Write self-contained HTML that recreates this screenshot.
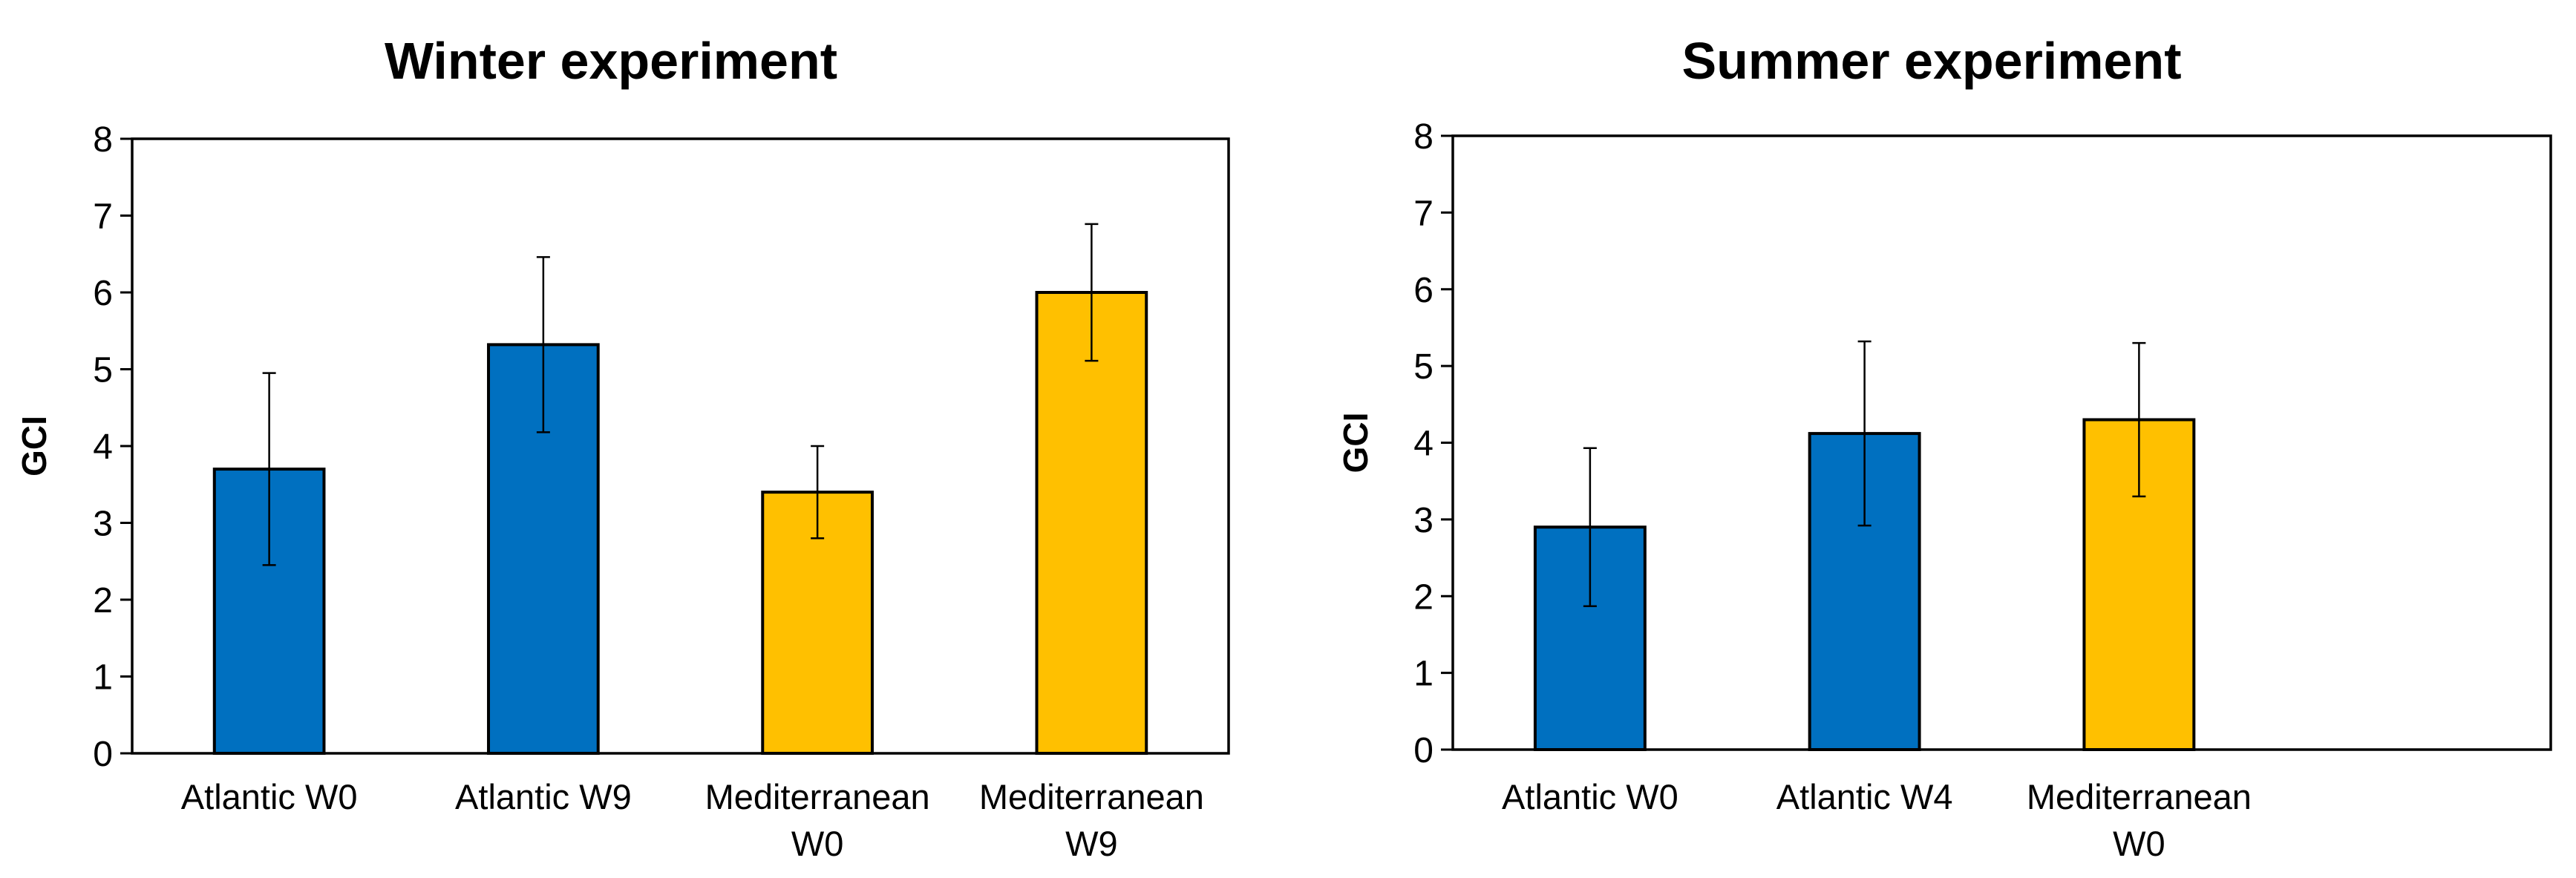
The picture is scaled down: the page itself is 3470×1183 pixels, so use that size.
<!DOCTYPE html>
<html><head><meta charset="utf-8"><style>
html,body{margin:0;padding:0;background:#fff;}
svg{display:block;font-family:"Liberation Sans",Arial,sans-serif;}
</style></head><body>
<svg id="chart" width="3470" height="1183" viewBox="0 0 3470 1183" xmlns="http://www.w3.org/2000/svg"></svg>
<script>
const winterCategories = [["Atlantic W0"],["Atlantic W9"],["Mediterranean","W0"],["Mediterranean","W9"]];
const winterValues = [3.7, 5.32, 3.4, 6.0];
const winterErrors = [1.25, 1.14, 0.6, 0.89];
const winterColors = ["#0070C0","#0070C0","#FFC000","#FFC000"];
const summerCategories = [["Atlantic W0"],["Atlantic W4"],["Mediterranean","W0"],[]];
const summerValues = [2.9, 4.12, 4.3];
const summerErrors = [1.03, 1.2, 1.0];
const summerColors = ["#0070C0","#0070C0","#FFC000"];
const yTicks = [0,1,2,3,4,5,6,7,8];

const svg = document.getElementById('chart');
const NS = 'http://www.w3.org/2000/svg';
function mk(tag, attrs, parent){
  const e = document.createElementNS(NS, tag);
  for (const k in attrs) e.setAttribute(k, attrs[k]);
  (parent||svg).appendChild(e);
  return e;
}
function drawPanel(key, title, cats, vals, errs, cols, L, R, T, B, titleX, gciX){
  const g = mk('g', {});
  
  
  const y = v => B - (v/8)*(B-T);
  const band = (R-L)/cats.length;
  const xc = i => L + band*(i+0.5);
  const bw = band*0.4;
  const t = mk('text', {x:titleX, y:106, 'text-anchor':'middle', 'font-size':70, 'font-weight':'bold'}, g);
  t.textContent = title;
  
  
  const yl = mk('text', {x:0, y:0, transform:`translate(${gciX},${(T+B)/2}) rotate(-90)`, 'text-anchor':'middle', 'font-size':46, 'font-weight':'bold'}, g);
  yl.textContent = 'GCI';
  
  
  yTicks.forEach(v => {
    const tk = mk('line', {x1:L-16, x2:L, y1:y(v), y2:y(v), stroke:'#000', 'stroke-width':3}, g);
    
    
    const tl = mk('text', {x:L-26, y:y(v)+17, 'text-anchor':'end', 'font-size':48}, g);
    tl.textContent = v;
    
    
  });
  vals.forEach((v,i) => {
    const r = mk('rect', {x:xc(i)-bw/2, y:y(v), width:bw, height:B-y(v), fill:cols[i], stroke:'#000', 'stroke-width':4}, g);
    
    
    const hi = y(v+errs[i]), lo = y(v-errs[i]);
    const eb = mk('path', {d:`M${xc(i)},${hi}V${lo}M${xc(i)-9},${hi}H${xc(i)+9}M${xc(i)-9},${lo}H${xc(i)+9}`, stroke:'#000', 'stroke-width':2.5, fill:'none'}, g);
    
    
  });
  const fr = mk('rect', {x:L, y:T, width:R-L, height:B-T, fill:'none', stroke:'#000', 'stroke-width':3.5}, g);
  
  
  cats.forEach((c,i) => {
    c.forEach((line,j) => {
      const ct = mk('text', {x:xc(i), y:1090+j*63, 'text-anchor':'middle', 'font-size':47}, g);
      ct.textContent = line;
      
      
    });
  });
}
drawPanel('winter', 'Winter experiment', winterCategories, winterValues, winterErrors, winterColors, 178, 1655, 187, 1015, 823, 62);
drawPanel('summer', 'Summer experiment', summerCategories, summerValues, summerErrors, summerColors, 1957, 3436, 183, 1010, 2602, 1842);
</script>
</body></html>
